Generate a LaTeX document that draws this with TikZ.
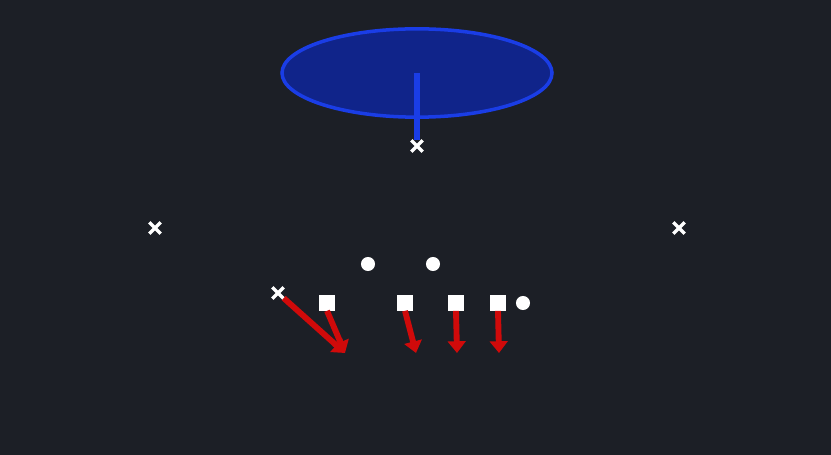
\documentclass[tikz,border=0pt]{standalone}
\usepackage{tikz}
\usetikzlibrary{arrows.meta, shapes.misc, shapes.geometric}
\definecolor{field}{HTML}{1C1F26}
\definecolor{zonefill}{HTML}{10248A}
\definecolor{zoneline}{HTML}{1A3DE6}
\definecolor{block}{HTML}{D00A0A}

\begin{document}
\begin{tikzpicture}[x=0.03cm, y=-0.03cm,
  player/.style={draw=white, cross out, line width=2.8pt, minimum size=7pt, inner sep=0pt},
  lineman/.style={fill=white, rectangle, minimum size=13pt, inner sep=0pt},
  back/.style={fill=white, circle, minimum size=12pt, inner sep=0pt},
  route/.style={draw=block, line width=5pt, -{Triangle[length=10pt, width=15pt]}}]
\fill[field] (0, 0) rectangle (831, 455);
\node[draw=zoneline, fill=zonefill, ellipse, line width=3pt, minimum width=8.1cm, minimum height=2.65cm] (Z) at (417, 73) {};
\node[player] (QB) at (417, 146) {};
\node[player] (WL) at (155, 228) {};
\node[player] (WR) at (679, 228) {};
\node[player] (SL) at (278, 293) {};
\node[back] (B1) at (368, 264) {};
\node[back] (B2) at (433, 264) {};
\node[back] (B3) at (523, 303) {};
\node[lineman] (L1) at (327, 303) {};
\node[lineman] (L2) at (405, 303) {};
\node[lineman] (L3) at (456, 303) {};
\node[lineman] (L4) at (498, 303) {};
\coordinate (E1) at (345, 353);
\coordinate (E2) at (416, 353);
\coordinate (E3) at (457, 353);
\coordinate (E4) at (499, 353);
\draw[zoneline, line width=4.5pt] (Z.center) to (QB.north);
\draw[route] (SL) to (E1);
\draw[route] (L1.south) to (E1);
\draw[route] (L2.south) to (E2);
\draw[route] (L3.south) to (E3);
\draw[route] (L4.south) to (E4);
\end{tikzpicture}
\end{document}
